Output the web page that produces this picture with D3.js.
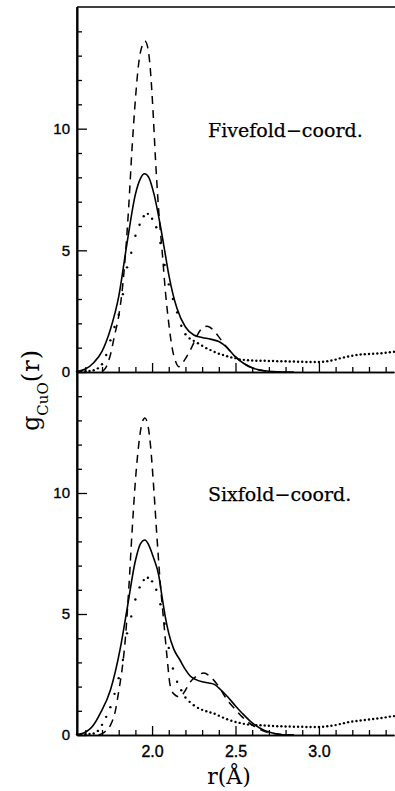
<!DOCTYPE html>
<html>
<head>
<meta charset="utf-8">
<script src="https://cdn.jsdelivr.net/npm/d3@7"></script>
<style>
body { margin: 0; background: #fff; }
svg { display: block; }
</style>
</head>
<body>
<div id="chart"></div>
<script>
// tick values and labels
const rMajor = [2.0, 2.5, 3.0]
const rMinor = [1.6, 1.7, 1.8, 1.9, 2.1, 2.2, 2.3, 2.4, 2.6, 2.7, 2.8, 2.9, 3.1, 3.2, 3.3, 3.4]
const gMajor = [0, 5, 10]
const gMinor = [1, 2, 3, 4, 6, 7, 8, 9, 11, 12, 13, 14]
const panelNames = ["Fivefold\u2212coord.", "Sixfold\u2212coord."]

// fivefold panel, [r, g]
const fiveSolid = [[1.55,0.02],[1.60,0.12],[1.65,0.38],[1.70,0.85],[1.75,1.75],[1.80,3.1],[1.85,5.3],[1.90,7.3],
  [1.93,7.95],[1.955,8.15],[1.98,8.0],[2.01,7.35],[2.05,6.0],[2.08,4.8],[2.10,4.0],[2.125,3.2],[2.15,2.6],
  [2.20,1.85],[2.25,1.52],[2.30,1.42],[2.35,1.35],[2.40,1.25],[2.45,1.0],[2.50,0.62],[2.55,0.35],[2.60,0.17],
  [2.65,0.08],[2.70,0.03],[2.80,0],[2.85,0]]
const fiveDashed = [[1.70,0.02],[1.72,0.15],[1.75,0.7],[1.775,1.5],[1.80,2.3],[1.82,3.3],[1.84,4.8],[1.86,6.8],
  [1.88,9.2],[1.90,11.2],[1.92,12.7],[1.94,13.4],[1.957,13.6],[1.975,13.3],[1.99,12.4],[2.005,10.8],[2.02,8.8],
  [2.04,6.6],[2.06,5.0],[2.08,3.3],[2.10,2.0],[2.12,1.0],[2.14,0.45],[2.16,0.22],[2.20,0.55],[2.24,1.05],
  [2.27,1.5],[2.30,1.8],[2.33,1.88],[2.37,1.7],[2.41,1.35],[2.45,1.0],[2.50,0.62],[2.55,0.35],[2.60,0.17],
  [2.65,0.07],[2.70,0.02],[2.80,0]]
// dotted curves are sampled every dotStep from dotStart
const dotStart = 1.55
const dotStep = 0.025
const fiveDots = [0.02,0.02,0.03,0.04,0.07,0.15,0.32,0.7,1.3,1.85,2.35,3.2,4.3,4.9,5.6,6.05,6.4,6.5,6.3,5.95,
  5.3,4.4,3.6,3.0,2.45,1.9,1.55,1.38,1.28,1.18,1.08,0.98,0.9,0.82,0.75,0.7,0.65,0.6,0.57,0.52,
  0.5,0.48,0.47,0.46,0.46,0.46,0.45,0.45,0.44,0.44,0.44,0.43,0.43,0.42,0.42,0.41,0.41,0.41,0.41,0.42,
  0.44,0.47,0.51,0.56,0.6,0.64,0.67,0.7,0.72,0.73,0.74,0.75,0.76,0.77,0.79,0.81,0.83]

// sixfold panel
const sixSolid = [[1.55,0.02],[1.59,0.08],[1.65,0.42],[1.69,0.9],[1.75,1.85],[1.81,3.6],[1.85,5.2],[1.90,7.2],
  [1.93,7.9],[1.957,8.06],[1.98,7.85],[2.01,7.3],[2.04,6.6],[2.06,5.7],[2.08,4.85],[2.10,4.2],[2.13,3.55],
  [2.167,3.1],[2.20,2.7],[2.227,2.45],[2.26,2.3],[2.30,2.2],[2.34,2.15],[2.376,2.08],[2.41,1.88],[2.454,1.57],
  [2.50,1.2],[2.54,0.9],[2.60,0.5],[2.65,0.27],[2.70,0.12],[2.75,0.04],[2.81,0],[2.85,0]]
const sixDashed = [[1.68,0],[1.71,0.1],[1.75,0.4],[1.78,1.0],[1.80,1.8],[1.82,2.7],[1.84,4.0],[1.86,6.0],
  [1.88,8.4],[1.90,10.5],[1.92,12.0],[1.94,12.9],[1.957,13.1],[1.975,12.8],[1.99,12.0],[2.01,10.2],[2.03,8.1],
  [2.05,6.2],[2.067,4.9],[2.09,3.2],[2.107,2.1],[2.13,1.7],[2.167,1.57],[2.20,1.85],[2.23,2.2],[2.27,2.45],
  [2.31,2.56],[2.35,2.4],[2.40,2.0],[2.45,1.45],[2.50,1.05],[2.54,0.75],[2.58,0.5],[2.62,0.33],[2.68,0.13],
  [2.75,0.04],[2.85,0]]
const sixDots = [0.02,0.02,0.03,0.04,0.06,0.17,0.42,0.75,1.15,1.7,2.35,3.1,4.2,4.9,5.6,6.1,6.4,6.5,6.35,6.0,
  5.4,4.6,3.6,2.75,2.2,1.85,1.55,1.37,1.23,1.12,1.04,0.98,0.93,0.88,0.8,0.72,0.65,0.59,0.54,0.5,
  0.46,0.43,0.42,0.41,0.4,0.39,0.38,0.37,0.36,0.36,0.35,0.35,0.34,0.34,0.34,0.33,0.33,0.33,0.33,0.34,
  0.36,0.38,0.41,0.45,0.49,0.53,0.56,0.58,0.6,0.62,0.64,0.66,0.68,0.7,0.73,0.76,0.78]

var svg = d3.select("#chart")
  .append("svg")
  .attr("width", 395)
  .attr("height", 791)

var x = d3.scaleLinear()
    .domain([1.55, 3.45])
    .range([77, 394])
var yTop = d3.scaleLinear()
    .domain([0, 15])
    .range([372, 7])
var yBot = d3.scaleLinear()
    .domain([0, 15])
    .range([735, 372])

function draw_panel(y, solid, dashed, dots, name, nameY, withLabels){
    let g = svg.append("g")

    // y ticks, pointing inward
    g.append("g")
        .attr("transform", "translate(" + x(1.55) + ",0)")
        .call(d3.axisLeft(y).tickValues(gMinor).tickSize(-5).tickSizeOuter(0).tickFormat(""))
    g.append("g")
        .attr("class", "lab")
        .attr("transform", "translate(" + x(1.55) + ",0)")
        .call(d3.axisLeft(y).tickValues(gMajor).tickSize(-10).tickSizeOuter(0).tickPadding(7))

    // x ticks, pointing up
    g.append("g")
        .attr("transform", "translate(0," + y(0) + ")")
        .call(d3.axisBottom(x).tickValues(rMinor).tickSize(-5).tickSizeOuter(0).tickFormat(""))
    let xa = d3.axisBottom(x).tickValues(rMajor).tickSize(-9).tickSizeOuter(0).tickPadding(11)
        .tickFormat(withLabels ? d3.format(".1f") : "")
    g.append("g")
        .attr("class", "lab")
        .attr("transform", "translate(0," + y(0) + ")")
        .call(xa)

    g.selectAll(".domain").attr("stroke", "#000").attr("stroke-width", 1.6)
    g.selectAll(".tick line").attr("stroke", "#000").attr("stroke-width", 1.3)
    g.selectAll(".lab text")
        .attr("font-family", "'Liberation Sans', Arial, sans-serif")
        .attr("font-size", 15)
        .attr("fill", "#000")
        .attr("stroke", "#000")
        .attr("stroke-width", 0.35)
    if(withLabels){
        g.selectAll(".lab text").filter(function(d){ return rMajor.includes(d) })
            .attr("font-size", 16)
    }

    let line = d3.line()
        .x(function(d){ return x(d[0]) })
        .y(function(d){ return y(d[1]) })
        .curve(d3.curveMonotoneX)

    g.append("path")
        .datum(solid)
        .attr("d", line)
        .attr("fill", "none")
        .attr("stroke", "#000")
        .attr("stroke-width", 1.6)
    g.append("path")
        .datum(dashed)
        .attr("d", line)
        .attr("fill", "none")
        .attr("stroke", "#000")
        .attr("stroke-width", 1.5)
        .attr("stroke-dasharray", "8,6")
    g.selectAll("circle.dot")
        .data(dots)
        .enter()
        .append("circle")
        .attr("class", "dot")
        .attr("cx", function(d, i){ return x(dotStart + i * dotStep) })
        .attr("cy", function(d){ return y(d) })
        .attr("r", 1.2)
        .attr("fill", "#000")

    g.append("text")
        .attr("x", 208)
        .attr("y", nameY)
        .attr("font-family", "'DejaVu Serif', serif")
        .attr("font-size", 19)
        .attr("fill", "#000")
        .attr("stroke", "#000")
        .attr("stroke-width", 0.25)
        .text(name)
}

draw_panel(yTop, fiveSolid, fiveDashed, fiveDots, panelNames[0], 137, false)
draw_panel(yBot, sixSolid, sixDashed, sixDots, panelNames[1], 501, true)

// frame top edge and left line through both panels
svg.append("line")
    .attr("x1", x(1.55)).attr("x2", 395)
    .attr("y1", yTop(15)).attr("y2", yTop(15))
    .attr("stroke", "#000").attr("stroke-width", 1.6)
svg.append("line")
    .attr("x1", x(1.55)).attr("x2", x(1.55))
    .attr("y1", yTop(15)).attr("y2", yBot(0))
    .attr("stroke", "#000").attr("stroke-width", 1.6)

// axis titles
svg.append("text")
    .attr("x", 229)
    .attr("y", 784)
    .attr("text-anchor", "middle")
    .attr("font-family", "'DejaVu Serif', serif")
    .attr("font-size", 22)
    .attr("fill", "#000")
    .text("r(\u00c5)")

var yt = svg.append("text")
    .attr("transform", "translate(39,431) rotate(-90)")
    .attr("font-family", "'DejaVu Serif', serif")
    .attr("fill", "#000")
yt.append("tspan").attr("font-size", 24).text("g")
yt.append("tspan").attr("font-size", 15).attr("dy", 9).text("CuO")
yt.append("tspan").attr("font-size", 24).attr("dy", -9).attr("letter-spacing", 1).text("(r)")
</script>
</body>
</html>
